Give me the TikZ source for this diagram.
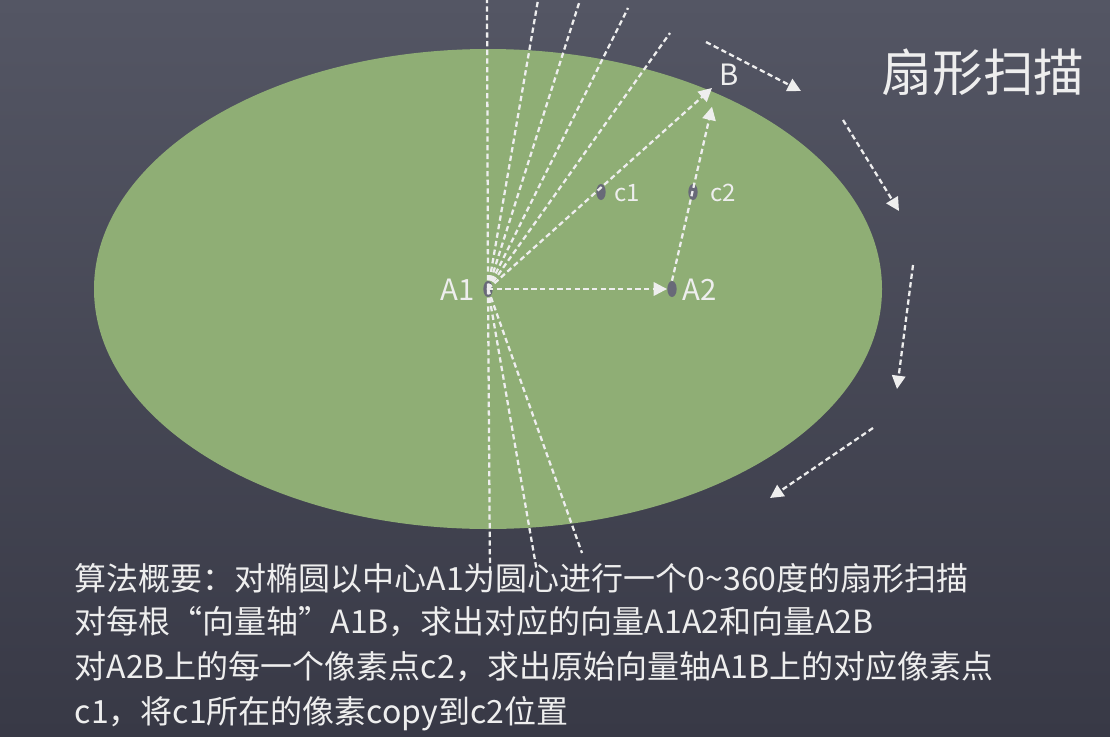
\documentclass[tikz,border=0pt]{standalone}
\usepackage{fontspec}
\setmainfont{Noto Sans CJK SC}
\usetikzlibrary{arrows.meta,shapes.geometric}
\definecolor{boardtop}{RGB}{84,86,100}
\definecolor{boardbottom}{RGB}{56,57,70}
\definecolor{lawn}{RGB}{143,174,117}
\definecolor{chalk}{RGB}{238,238,238}
\definecolor{pin}{RGB}{104,105,120}
\tikzset{
  scan/.style={draw=chalk, line width=1.7pt, dash pattern=on 4pt off 2.5pt},
  scan arrow/.style={scan, arrows={-Triangle[length=10pt,width=10pt]}},
  pin/.style={ellipse, fill=pin, inner sep=0pt, minimum width=7pt, minimum height=12pt},
  pin label/.style={text=chalk, font=\fontsize{18}{20}\selectfont},
  big label/.style={text=chalk, font=\fontsize{22}{24}\selectfont},
  title/.style={text=chalk, font=\fontsize{38}{42}\selectfont},
  note/.style={text=chalk, anchor=west, font=\fontsize{24}{26}\selectfont}
}

\begin{document}
\begin{tikzpicture}[x=0.75pt, y=-0.75pt]
  % board
  \shade[top color=boardtop, bottom color=boardbottom] (0,0) rectangle (1110,736);
  \useasboundingbox (0,0) rectangle (1110,736);
  \fill[lawn] (488,289) ellipse [x radius=394, y radius=240];

  \node[pin] at (488,289) (A1) {};
  \node[pin] at (672,289) (A2) {};
  \node[pin] at (601,192) (c1) {};
  \node[pin] at (693,192) (c2) {};
  \coordinate (B) at (712,88);

  % fan of scan lines
  \coordinate (u1) at (487,0);
  \coordinate (u2) at (538,0);
  \coordinate (u3) at (580,0);
  \coordinate (u4) at (628,8);
  \coordinate (u5) at (670,33);
  \coordinate (d1) at (490,575);
  \coordinate (d2) at (537,572);
  \coordinate (d3) at (582,553);
  \foreach \p in {u1,u2,u3,u4,u5,d1,d2,d3}
    \draw[scan] (A1.center) -- (\p);

  \draw[scan arrow] (A1.center) -- (B);
  \draw[scan arrow] (A1.center) -- (A2.west);
  \draw[scan arrow] (A2.north) -- ([yshift=-14]B);

  % sweep direction
  \coordinate (r1a) at (706,42);  \coordinate (r1b) at (801,91);
  \coordinate (r2a) at (843,120); \coordinate (r2b) at (899,211);
  \coordinate (r3a) at (913,265); \coordinate (r3b) at (897,389);
  \coordinate (r4a) at (873,428); \coordinate (r4b) at (770,498);
  \draw[scan arrow] (r1a) -- (r1b);
  \draw[scan arrow] (r2a) -- (r2b);
  \draw[scan arrow] (r3a) -- (r3b);
  \draw[scan arrow] (r4a) -- (r4b);

  \node[big label] at (458,290) (A1 label) {A1};
  \node[big label] at (700,290) (A2 label) {A2};
  \node[pin label] at (627,193) (c1 label) {c1};
  \node[pin label] at (723,193) (c2 label) {c2};
  \node[big label] at (729,75) (B label) {B};

  \node[title] at (983,72) (heading) {扇形扫描};

  \node[note] at (70,578) (line1) {算法概要：对椭圆以中心A1为圆心进行一个0\textasciitilde360度的扇形扫描};
  \node[note] at (70,622) (line2) {对每根“向量轴”A1B，求出对应的向量A1A2和向量A2B};
  \node[note] at (70,667) (line3) {对A2B上的每一个像素点c2，求出原始向量轴A1B上的对应像素点};
  \node[note] at (70,714) (line4) {c1，将c1所在的像素copy到c2位置};
\end{tikzpicture}
\end{document}
